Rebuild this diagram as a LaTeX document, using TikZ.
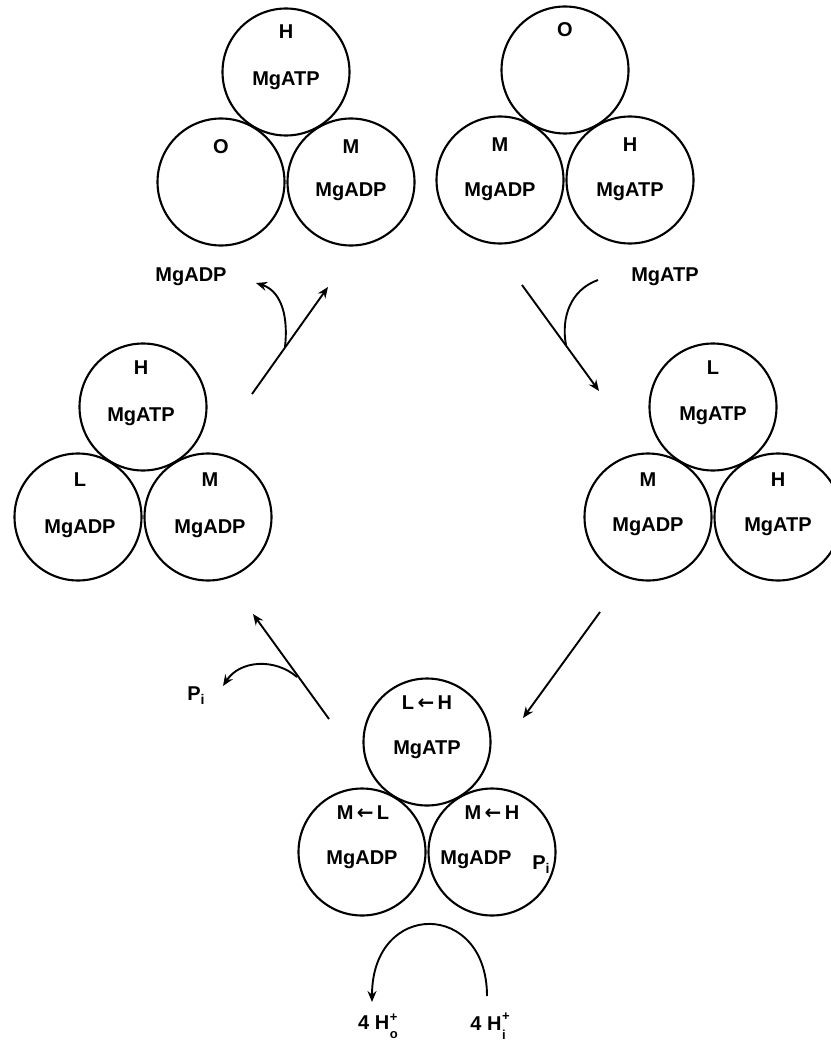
\documentclass[tikz,border=0pt]{standalone}
\usepackage{fontspec}
\setmainfont{Liberation Sans}
\newfontfamily\arrowfont{DejaVu Sans}
\usetikzlibrary{arrows.meta,calc}

\tikzset{
  ring/.style={circle,draw,line width=2.1pt,minimum size=127pt,inner sep=0pt},
  txt/.style={inner sep=0pt,font=\fontsize{20}{22}\selectfont\bfseries},
  conn/.style={line width=1.9pt,-{Stealth[length=11pt,width=9pt]}},
  feed/.style={line width=1.9pt},
}
\newcommand{\lar}{\,{\arrowfont\bfseries ←}\,}
\newcommand{\ion}[1]{H\kern0.5pt\raisebox{-9pt}{\fontsize{13}{13}\selectfont\shortstack[l]{+\\[7pt]#1}}}

\begin{document}
\begin{tikzpicture}[x=1pt,y=-1pt]
\useasboundingbox (0,0) rectangle (830,1043);

% ---- top-left state
\node[ring] (a) at (286,72) {};
\node[ring] (al) at (221,182) {};
\node[ring] (ar) at (351,182) {};
\node[txt] (aT) at (286,32) {H};
\node[txt] (aM) at (286,81) {MgATP};
\node[txt] (alT) at (221,147) {O};
\node[txt] (arT) at (351,147) {M};
\node[txt] (arM) at (351,192) {MgADP};

% ---- top-right state
\node[ring] (b) at (565,70) {};
\node[ring] (bl) at (500,180) {};
\node[ring] (br) at (630,180) {};
\node[txt] (bT) at (565,30) {O};
\node[txt] (blT) at (500,145) {M};
\node[txt] (blM) at (500,192) {MgADP};
\node[txt] (brT) at (630,145) {H};
\node[txt] (brM) at (630,192) {MgATP};

% ---- right state
\node[ring] (c) at (713,407) {};
\node[ring] (cl) at (648,517) {};
\node[ring] (cr) at (778,517) {};
\node[txt] (cT) at (713,368) {L};
\node[txt] (cM) at (713,416) {MgATP};
\node[txt] (clT) at (648,480) {M};
\node[txt] (clM) at (648,527) {MgADP};
\node[txt] (crT) at (778,480) {H};
\node[txt] (crM) at (778,527) {MgATP};

% ---- left state
\node[ring] (d) at (143,407) {};
\node[ring] (dl) at (78,517) {};
\node[ring] (dr) at (208,517) {};
\node[txt] (dT) at (141,368) {H};
\node[txt] (dM) at (141,417) {MgATP};
\node[txt] (dlT) at (80,480) {L};
\node[txt] (dlM) at (80,529) {MgADP};
\node[txt] (drT) at (210,480) {M};
\node[txt] (drM) at (210,529) {MgADP};

% ---- bottom state
\node[ring] (e) at (427,742) {};
\node[ring] (el) at (362,852) {};
\node[ring] (er) at (492,852) {};
\node[txt] (eT) at (427,703) {L\lar H};
\node[txt] (eM) at (427,750) {MgATP};
\node[txt] (elT) at (363,813) {M\lar L};
\node[txt] (elM) at (362,860) {MgADP};
\node[txt] (erT) at (492,813) {M\lar H};
\node[txt] (erM) at (476,860) {MgADP};
\node[txt] (erP) at (541,865) {P\raisebox{-4pt}{\fontsize{14}{14}\selectfont i}};

% ---- side labels
\node[txt] (adp) at (191,277) {MgADP};
\node[txt] (atp) at (665,277) {MgATP};
\node[txt] (pi) at (196,696) {P\raisebox{-4pt}{\fontsize{14}{14}\selectfont i}};
\node[txt] (ho) at (378,1026) {4 \ion{o}};
\node[txt] (hi) at (490,1026) {4 \ion{i}};

% ---- connector end points
\coordinate (s1) at (252,394);  \coordinate (t1) at (328,287);
\coordinate (s2) at (522,285);  \coordinate (t2) at (599,391);
\coordinate (s3) at (600,612);  \coordinate (t3) at (523,718);
\coordinate (s4) at (329,719);  \coordinate (t4) at (253,614);
\coordinate (r1) at (285,347);  \coordinate (q1) at (256,283);
\coordinate (r2) at (598,280);  \coordinate (q2) at (566,345);
\coordinate (r4) at (297,677);  \coordinate (q4) at (223,686);
\coordinate (r5) at (487,996);  \coordinate (q5) at (372,1002);

% ---- cycle arrows
\draw[conn] (s1) -- (t1);
\draw[conn] (s2) -- (t2);
\draw[conn] (s3) -- (t3);
\draw[conn] (s4) -- (t4);

% ---- release / binding branches
\draw[conn] (r1) .. controls (289,310) and (278,290) .. (q1);
\draw[feed] (r2) .. controls (570,290) and (561,318) .. (q2);
\draw[conn] (r4) .. controls (275,658) and (240,660) .. (q4);
\draw[conn] (r5) .. controls (487,900) and (372,900) .. (q5);
\end{tikzpicture}
\end{document}
